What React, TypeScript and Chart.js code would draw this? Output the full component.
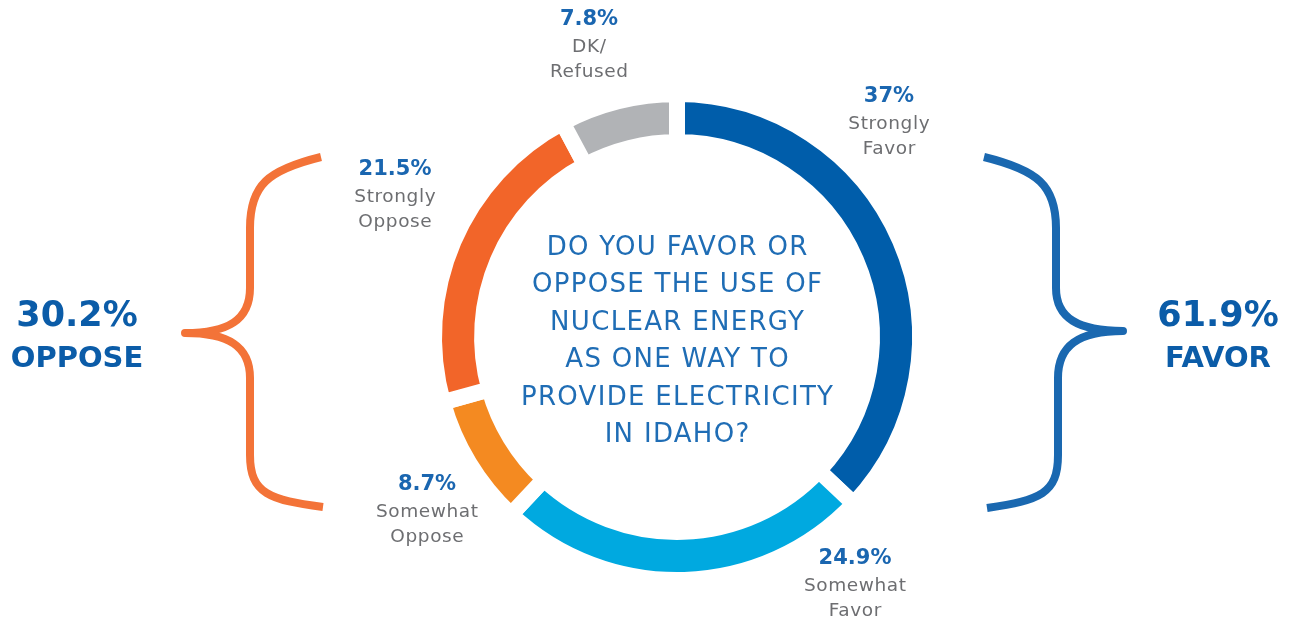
import React, { useEffect, useRef } from "react";
import { Chart, registerables } from "chart.js";

Chart.register(...registerables);

// ---- data ----
const categories = ["Strongly Favor", "Somewhat Favor", "Somewhat Oppose", "Strongly Oppose", "DK/Refused"];
const values = [37, 24.9, 8.7, 21.5, 7.8];
const labelLines = [["Strongly", "Favor"], ["Somewhat", "Favor"], ["Somewhat", "Oppose"], ["Strongly", "Oppose"], ["DK/", "Refused"]];
const colors = ["#005DAA", "#00A9E0", "#F48A21", "#F26529", "#B1B3B6"];
const favorIdx = [0, 1];
const opposeIdx = [2, 3];
const questionLines = ["DO YOU FAVOR OR", "OPPOSE THE USE OF", "NUCLEAR ENERGY", "AS ONE WAY TO", "PROVIDE ELECTRICITY", "IN IDAHO?"];

// ---- layout (positions of annotation text) ----
const labelPos = [
  [889, 97],
  [855, 559],
  [427, 485],
  [395, 170],
  [589, 20],
];

const W = 1289;
const H = 619;

const fmt = (v: number) => (Math.round(v * 10) / 10).toString() + "%";

const overlayPlugin = {
  id: "overlay",
  afterDraw(chart: any) {
    const ctx = chart.ctx as any;
    const arc = chart.getDatasetMeta(0).data[0];
    const cx = arc.x;
    const cy = arc.y;
    ctx.save();
    ctx.textAlign = "center";
    ctx.textBaseline = "middle";

    // center question
    ctx.fillStyle = "#1F6DB5";
    ctx.font = "26px 'DejaVu Sans'";
    ctx.letterSpacing = "1.3px";
    const lh = 37.5;
    questionLines.forEach((t, i) => {
      ctx.fillText(t, cx + 0.6, cy - 89 + i * lh);
    });

    // segment labels
    values.forEach((v, i) => {
      const [x, y] = labelPos[i];
      ctx.fillStyle = "#1A66B0";
      ctx.letterSpacing = "0px";
      ctx.font = "bold 21px 'DejaVu Sans'";
      ctx.fillText(fmt(v), x, y);
      ctx.fillStyle = "#6D6E71";
      ctx.font = "18.5px 'DejaVu Sans'";
      ctx.letterSpacing = "0.6px";
      labelLines[i].forEach((l, j) => ctx.fillText(l, x + 0.3, y + 27 + j * 25));
    });
    ctx.letterSpacing = "0px";

    // braces
    ctx.lineWidth = 8;
    ctx.lineCap = "butt";
    ctx.lineJoin = "round";
    ctx.strokeStyle = "#F37338";
    ctx.beginPath();
    ctx.moveTo(321, 157);
    ctx.bezierCurveTo(268, 170, 250, 185, 250, 228);
    ctx.lineTo(250, 288);
    ctx.bezierCurveTo(250, 320, 228, 333, 185, 333);
    ctx.bezierCurveTo(228, 333, 250, 346, 250, 378);
    ctx.lineTo(250, 455);
    ctx.bezierCurveTo(250, 494, 270, 500, 323, 507);
    ctx.stroke();

    ctx.strokeStyle = "#1A68B0";
    ctx.beginPath();
    ctx.moveTo(984, 157);
    ctx.bezierCurveTo(1037, 170, 1056, 185, 1056, 228);
    ctx.lineTo(1056, 288);
    ctx.bezierCurveTo(1056, 318, 1078, 331, 1123, 331);
    ctx.bezierCurveTo(1078, 331, 1058, 346, 1058, 378);
    ctx.lineTo(1058, 455);
    ctx.bezierCurveTo(1058, 494, 1040, 500, 987, 508);
    ctx.stroke();

    // group totals
    const opp = opposeIdx.reduce((s, i) => s + values[i], 0);
    const fav = favorIdx.reduce((s, i) => s + values[i], 0);
    ctx.fillStyle = "#0B5CA8";
    ctx.font = "bold 35px 'DejaVu Sans'";
    ctx.fillText(fmt(opp), 77, 317);
    ctx.fillText(fmt(fav), 1218, 317);
    ctx.font = "bold 29px 'DejaVu Sans'";
    ctx.fillText("OPPOSE", 77, 359);
    ctx.fillText("FAVOR", 1218, 359);
    ctx.restore();
  },
};

export default function App() {
  const ref = useRef<HTMLCanvasElement>(null);
  useEffect(() => {
    if (!ref.current) return;
    const chart = new Chart(ref.current, {
      type: "doughnut",
      data: {
        labels: categories,
        datasets: [
          {
            data: values,
            backgroundColor: colors,
            borderColor: "#ffffff",
            borderWidth: 16,
            borderJoinStyle: "miter",
            hoverBorderWidth: 16,
          },
        ],
      },
      options: {
        responsive: false,
        animation: false,
        radius: 243,
        cutout: "80.2%",
        layout: { padding: { left: 65, right: 0, top: 55, bottom: 0 } },
        plugins: { legend: { display: false }, tooltip: { enabled: false } },
        events: [],
      } as any,
      plugins: [overlayPlugin],
    });
    return () => chart.destroy();
  }, []);
  return (
    <div style={{ position: "absolute", left: 0, top: 0, width: W, height: H, background: "#fff" }}>
      <canvas ref={ref} width={W} height={H} style={{ width: W, height: H, display: "block" }} />
    </div>
  );
}
